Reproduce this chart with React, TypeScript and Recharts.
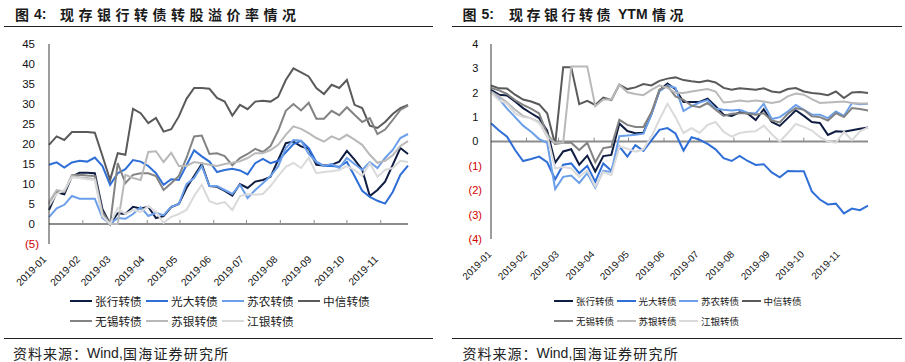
import React from "react";
import { LineChart, Line, XAxis, YAxis, ReferenceLine } from "recharts";

// 周度日期（每周五）
const dates = [
  "2019-01-04", "2019-01-11", "2019-01-18", "2019-01-25",
  "2019-02-01", "2019-02-08", "2019-02-15", "2019-02-22",
  "2019-03-01", "2019-03-08", "2019-03-15", "2019-03-22", "2019-03-29",
  "2019-04-05", "2019-04-12", "2019-04-19", "2019-04-26",
  "2019-05-03", "2019-05-10", "2019-05-17", "2019-05-24", "2019-05-31",
  "2019-06-07", "2019-06-14", "2019-06-21", "2019-06-28",
  "2019-07-05", "2019-07-12", "2019-07-19", "2019-07-26",
  "2019-08-02", "2019-08-09", "2019-08-16", "2019-08-23", "2019-08-30",
  "2019-09-06", "2019-09-13", "2019-09-20", "2019-09-27",
  "2019-10-04", "2019-10-11", "2019-10-18", "2019-10-25",
  "2019-11-01", "2019-11-08", "2019-11-15", "2019-11-22", "2019-11-29",
];

const tickDates = [
  "2019-01-04", "2019-02-04", "2019-03-04", "2019-04-04", "2019-05-04", "2019-06-04",
  "2019-07-04", "2019-08-04", "2019-09-04", "2019-10-04", "2019-11-04",
];
const tickLabels = [
  "2019-01", "2019-02", "2019-03", "2019-04", "2019-05", "2019-06",
  "2019-07", "2019-08", "2019-09", "2019-10", "2019-11",
];

const names = ["张行转债", "光大转债", "苏农转债", "中信转债", "无锡转债", "苏银转债", "江银转债"];
const colors = ["#0f1d42", "#2f6fd7", "#6c9fea", "#5a5a5a", "#838383", "#b9b9b9", "#dadada"];

// 转股溢价率（%）
const premZH = [3.5, 7.9, 7.4, 11.9, 12.8, 12.8, 12.7, 3.7, 0, 2.7, 2.5, 4.3, 3.9, 4.3, 1.5, 2, 4.2, 5, 9, 12, 15, 9.5, 9.3, 8.3, 7.1, 10, 9, 10.6, 11, 11.8, 16, 20.2, 20.6, 19.4, 18.8, 14.8, 14.6, 14.8, 15.6, 18.3, 16.1, 13.6, 7, 8.5, 10.6, 14.8, 19, 17.5];
const premGD = [14.8, 15.4, 14.1, 15.4, 15.8, 15.6, 16.6, 14.5, 9.8, 12.7, 13.7, 16, 15.6, 14.5, 12.7, 9.8, 11.2, 11, 14.7, 18.4, 16.9, 15.6, 13, 13.5, 13.8, 13.4, 12.4, 15.2, 16.3, 15.2, 15.8, 17.9, 20, 20.8, 19, 15.5, 14.5, 14.5, 14.3, 15.5, 12, 8.3, 6.8, 5.8, 5.1, 8, 12.3, 14.6];
const premSN = [1.7, 3.9, 4.8, 7, 6.3, 6.3, 6.3, 1.5, 0, 1.5, 1.3, 2.5, 4.2, 2, 2.8, 2.2, 4.3, 5, 10, 11.5, 14.5, 9.5, 9.5, 8.5, 7.5, 9.8, 6.5, 8.5, 10.2, 12, 14.4, 19, 21, 20.8, 17.5, 15.5, 14.5, 15, 14, 16.5, 15, 13.5, 15.5, 14, 16.5, 18.5, 21.5, 22.5];
const premZX = [19.8, 21.9, 21, 23, 23, 23, 22.8, 17, 11, 17.7, 17.3, 28.8, 27.7, 25.2, 26.5, 23.1, 23.7, 26.9, 31.3, 34, 34, 33.8, 31.5, 30.6, 27.1, 29.8, 28.7, 30.6, 30.8, 30.6, 31.8, 36, 38.9, 37.9, 36.9, 34, 32.5, 34.8, 34, 36, 29.8, 29, 24.6, 24, 25.5, 27.5, 29, 29.8];
const premWX = [5, 8.2, 8, 12.2, 12.3, 12.1, 12, 3, 0, 15.2, 10.2, 12.3, 12.7, 12.7, 12, 8.5, 10.2, 12, 16.5, 21.9, 22.1, 17.5, 17.7, 17, 14.7, 16.5, 17.5, 18.8, 18, 19.5, 23.3, 28.3, 30, 28.4, 30.3, 26.3, 26.3, 28.3, 27.2, 29.2, 27.3, 25.5, 26.5, 22.5, 23.6, 26, 28.5, 29.6];
const premSY = [5.5, 8.5, 8.1, 12, 11.7, 11.5, 11.2, 2, 0, 0, 12.3, 11.5, 11, 18, 18.2, 15.5, 17.8, 14.5, 14.5, 15.5, 15.2, 14.8, 14.5, 15, 15.3, 15.7, 16.5, 17.7, 17.7, 18.5, 19.8, 22.3, 24.4, 23.8, 22.7, 21.5, 20.6, 21.9, 21.1, 22.3, 21.1, 19.8, 17.3, 15.3, 15.8, 17.2, 19.5, 20.7];
const premJY = [4.5, 7.5, 8.5, 11.7, 11.5, 11.2, 11, 2, 0, 4, 2.5, 3.5, 3, 4.5, 3, 0.3, 1.8, 2.5, 3.5, 7, 9.8, 5.7, 5, 5.5, 3.5, 7, 7.5, 7.3, 7.5, 9.5, 12, 14.3, 15.3, 14, 16.5, 12.7, 13, 13.2, 13.5, 14.5, 13.5, 12, 15.2, 11.8, 13.5, 14, 15.8, 15.5];

// YTM（%）
const ytmZH = [2.12, 1.92, 1.89, 1.64, 1.37, 1.16, 0.96, 0.45, -0.87, -0.41, -0.32, -0.95, -0.58, -1.23, -0.6, -0.55, 0.74, 0.43, 0.34, 0.36, 1.13, 2.1, 2.38, 2.15, 1.62, 1.62, 1.62, 1.76, 1.45, 1.1, 1.05, 1.2, 1.15, 0.88, 1.32, 0.8, 0.64, 0.96, 1.28, 1.05, 0.8, 0.76, 0.27, 0.42, 0.4, 0.46, 0.52, 0.58];
const ytmGD = [0.75, 0.45, 0.2, -0.35, -0.8, -0.72, -0.62, -0.85, -1.55, -0.95, -0.9, -1.3, -1.0, -1.65, -0.9, -1.2, -0.2, -0.62, -0.15, -0.38, 0.05, 0.48, 0.55, 0.33, -0.37, 0.18, 0.07, -0.1, -0.32, -0.68, -0.8, -0.59, -0.8, -0.96, -0.93, -1.27, -1.47, -1.21, -1.22, -1.22, -2.05, -2.38, -2.58, -2.55, -2.95, -2.75, -2.82, -2.63];
const ytmSN = [2.05, 1.75, 1.35, 1.0, 0.65, 0.4, 0.1, -0.05, -1.95, -1.45, -1.4, -1.7, -1.3, -1.9, -1.2, -1.25, 0.22, 0.25, 0.28, 0.32, 1.1, 2.05, 2.3, 2.2, 1.25, 1.45, 1.6, 1.7, 1.35, 1.3, 1.27, 1.3, 1.18, 1.15, 1.55, 0.92, 1.0, 1.23, 1.5, 1.3, 1.1, 1.1, 0.96, 1.23, 1.05, 1.58, 1.53, 1.55];
const ytmZX = [2.3, 2.18, 2.17, 1.92, 1.72, 1.64, 1.52, 1.16, -0.12, 3.05, 3.05, 1.53, 1.67, 1.5, 1.8, 1.7, 2.33, 2.15, 2.22, 2.36, 2.3, 2.49, 2.58, 2.63, 2.52, 2.47, 2.43, 2.5, 2.42, 2.2, 2.12, 2.18, 2.15, 2.12, 2.18, 2.05, 2.01, 2.15, 2.19, 2.05, 1.99, 1.96, 1.9, 2.05, 1.78, 2.01, 2.03, 1.99];
const ytmWX = [2.2, 2.1, 1.95, 1.7, 1.5, 1.35, 1.15, 0.3, -0.1, -0.05, -0.05, -0.35, -0.05, -0.85, -0.27, -0.22, 0.89, 0.68, 0.6, 0.6, 1.2, 2.12, 2.28, 1.85, 1.71, 1.47, 1.41, 1.58, 1.3, 1.05, 1.14, 1.16, 1.16, 1.1, 1.16, 0.86, 0.78, 1.14, 1.37, 1.3, 1.03, 1.0, 0.86, 1.16, 1.0, 1.37, 1.33, 1.27];
const ytmSY = [2.05, 1.85, 1.6, 1.3, 1.05, 0.95, 0.8, 0.2, -0.05, -0.05, 3.08, 3.08, 3.08, 1.45, 1.72, 1.72, 2.33, 2.02, 1.95, 1.9, 2.12, 2.3, 2.2, 2.0, 1.99, 2.05, 2.1, 2.15, 2.05, 1.6, 1.63, 1.68, 1.64, 1.68, 1.64, 1.58, 1.64, 1.85, 1.97, 1.92, 1.74, 1.58, 1.6, 1.62, 1.64, 1.58, 1.56, 1.56];
const ytmJY = [2.0, 1.7, 1.55, 1.15, 1.0, 0.95, 0.75, 0.25, -1.1, -1.05, -1.1, -1.45, -1.18, -1.85, -1.25, -1.38, -0.2, -0.3, -0.42, -0.32, 0.2, 0.9, 1.55, 1.0, 0.35, 0.55, 0.35, 0.68, 0.8, 0.4, 0.2, 0.35, 0.4, 0.42, 0.65, 0.3, 0.0, 0.35, 0.72, 0.6, 0.45, 0.18, 0.0, -0.05, 0.4, 0.05, 0.42, 0.58];

const leftTicks = [-5, 0, 5, 10, 15, 20, 25, 30, 35, 40, 45];
const rightTicks = [-4, -3, -2, -1, 0, 1, 2, 3, 4];

const DAY = 86400000;
const t0 = Date.parse(dates[0]);
const toDay = (d: string) => Math.round((Date.parse(d) - t0) / DAY);
const tickDays = tickDates.map(toDay);
const lastDay = toDay(dates[dates.length - 1]);

const buildRows = (series: number[][]) =>
  dates.map((d, i) => {
    const row: any = { t: toDay(d) };
    series.forEach((s, k) => (row["s" + k] = s[i]));
    return row;
  });

const premRows = buildRows([premZH, premGD, premSN, premZX, premWX, premSY, premJY]);
const ytmRows = buildRows([ytmZH, ytmGD, ytmSN, ytmZX, ytmWX, ytmSY, ytmJY]);

const NUM_FONT = "'Liberation Sans', Arial, sans-serif";
const CJK_FONT = "'Noto Sans CJK SC', 'Liberation Sans', sans-serif";

const XTick = ({ x, y, payload, fontSize, dx, dy }: any) => {
  const idx = tickDays.indexOf(payload.value);
  const px = x + dx;
  const py = y + dy;
  return (
    <text
      x={px}
      y={py}
      transform={`rotate(-45, ${px}, ${py})`}
      textAnchor="end"
      fontSize={fontSize}
      fontFamily={NUM_FONT}
      fill="#111"
    >
      {tickLabels[idx]}
    </text>
  );
};

const YTick = ({ x, y, payload, fontSize, paren }: any) => {
  const v = payload.value;
  const neg = v < 0;
  return (
    <text
      x={neg ? x : x - paren}
      y={y}
      dy="0.36em"
      textAnchor="end"
      fontSize={fontSize}
      fontFamily={NUM_FONT}
      fill={neg ? "#d00000" : "#111"}
    >
      {neg ? `(${-v})` : v}
    </text>
  );
};

function Panel({ rows, width, plotH, domain, ticks, tickUp, yFont, xFont, yWidth, yMargin, marginRight, xDx, xDy, paren }: any) {
  return (
    <LineChart
      width={width}
      height={300}
      data={rows}
      margin={{ top: 44, right: marginRight, left: 0, bottom: 0 }}
    >
      <XAxis
        type="number"
        dataKey="t"
        domain={[0, lastDay]}
        ticks={tickDays}
        interval={0}
        axisLine={false}
        tickLine={false}
        tickSize={0}
        tickMargin={0}
        height={300 - 44 - plotH}
        tick={<XTick fontSize={xFont} dx={xDx} dy={xDy} />}
      />
      <YAxis
        type="number"
        domain={domain}
        ticks={ticks}
        interval={0}
        width={yWidth}
        axisLine={{ stroke: "#3a3a3a", strokeWidth: 1 }}
        tickLine={false}
        tickSize={0}
        tickMargin={yMargin}
        tick={<YTick fontSize={yFont} paren={paren} />}
      />
      <ReferenceLine y={0} stroke="#8c8c8c" strokeWidth={2} />
      {tickDays.slice(1).map((d) => (
        <ReferenceLine
          key={d}
          segment={[{ x: d, y: 0 }, { x: d, y: tickUp }]}
          stroke="#8c8c8c"
          strokeWidth={1}
        />
      ))}
      {names.map((n, k) => (
        <Line
          key={n}
          type="linear"
          dataKey={"s" + k}
          name={n}
          stroke={colors[k]}
          strokeWidth={2}
          dot={false}
          activeDot={false}
          isAnimationActive={false}
        />
      ))}
    </LineChart>
  );
}

function LegendBlock({ left, top, colW, lineW, gap, fontSize }: any) {
  return (
    <div style={{ position: "absolute", left, top, width: colW * 4 }}>
      {names.map((n, k) => (
        <div
          key={n}
          style={{
            position: "absolute",
            left: (k % 4) * colW,
            top: Math.floor(k / 4) * 19.7,
            display: "flex",
            alignItems: "center",
            height: 16,
            whiteSpace: "nowrap",
          }}
        >
          <span style={{ display: "inline-block", width: lineW, height: 2, background: colors[k], marginRight: gap }} />
          <span style={{ fontFamily: CJK_FONT, fontSize, color: "#1a1a1a", lineHeight: "16px" }}>{n}</span>
        </div>
      ))}
    </div>
  );
}

const abs = (left: number, top: number, extra: any = {}) => ({ position: "absolute" as const, left, top, whiteSpace: "nowrap" as const, ...extra });

export default function App() {
  const titleStyle = { fontFamily: CJK_FONT, fontSize: 14, fontWeight: 700, color: "#1a1a1a", lineHeight: "20px" };
  const srcStyle = { fontFamily: CJK_FONT, fontSize: 14, color: "#222", lineHeight: "20px" };
  return (
    <div style={{ position: "absolute", left: 0, top: 0, width: 905, height: 362, background: "#fff", overflow: "hidden" }}>
      {/* 左图 */}
      <div style={abs(15, 4, titleStyle)}>图</div>
      <div style={abs(34, 4, { ...titleStyle, fontFamily: NUM_FONT })}>4:</div>
      <div style={abs(60, 4, { ...titleStyle, letterSpacing: 4.5 })}>现存银行转债转股溢价率情况</div>
      <div style={abs(4, 26, { width: 429, height: 1, background: "#222" })} />
      <div style={abs(0, 0)}>
        <Panel rows={premRows} width={450} plotH={200} domain={[-5, 45]} ticks={leftTicks} tickUp={1}
          yFont={11.5} xFont={10.2} yWidth={49} yMargin={10} marginRight={42} xDx={-2} xDy={16} paren={4} />
      </div>
      <LegendBlock left={70} top={293} colW={76} lineW={22} gap={3} fontSize={11.7} />
      <div style={abs(4, 338, { width: 429, height: 1, background: "#222" })} />
      <div style={abs(13, 343, { ...srcStyle, letterSpacing: 1 })}>资料来源：</div>
      <div style={abs(87, 343, { ...srcStyle, fontFamily: NUM_FONT })}>Wind,</div>
      <div style={abs(123, 343, { ...srcStyle, letterSpacing: 1.2 })}>国海证券研究所</div>

      {/* 右图 */}
      <div style={abs(462.5, 4, titleStyle)}>图</div>
      <div style={abs(481.5, 4, { ...titleStyle, fontFamily: NUM_FONT })}>5:</div>
      <div style={abs(509, 4, { ...titleStyle, letterSpacing: 3.5 })}>现存银行转债</div>
      <div style={abs(618, 4, { ...titleStyle, fontFamily: NUM_FONT })}>YTM</div>
      <div style={abs(652, 4, { ...titleStyle, letterSpacing: 3.5 })}>情况</div>
      <div style={abs(452, 26, { width: 450, height: 1, background: "#222" })} />
      <div style={abs(450, 0)}>
        <Panel rows={ytmRows} width={455} plotH={195} domain={[-4, 4]} ticks={rightTicks} tickUp={0.16}
          yFont={11} xFont={9.8} yWidth={41} yMargin={9} marginRight={37} xDx={1} xDy={16} paren={3.7} />
      </div>
      <LegendBlock left={554} top={293} colW={62.5} lineW={19} gap={3} fontSize={9.5} />
      <div style={abs(452, 338, { width: 450, height: 1, background: "#222" })} />
      <div style={abs(462.5, 343, { ...srcStyle, letterSpacing: 1 })}>资料来源：</div>
      <div style={abs(536.5, 343, { ...srcStyle, fontFamily: NUM_FONT })}>Wind,</div>
      <div style={abs(572.5, 343, { ...srcStyle, letterSpacing: 1.2 })}>国海证券研究所</div>
    </div>
  );
}
